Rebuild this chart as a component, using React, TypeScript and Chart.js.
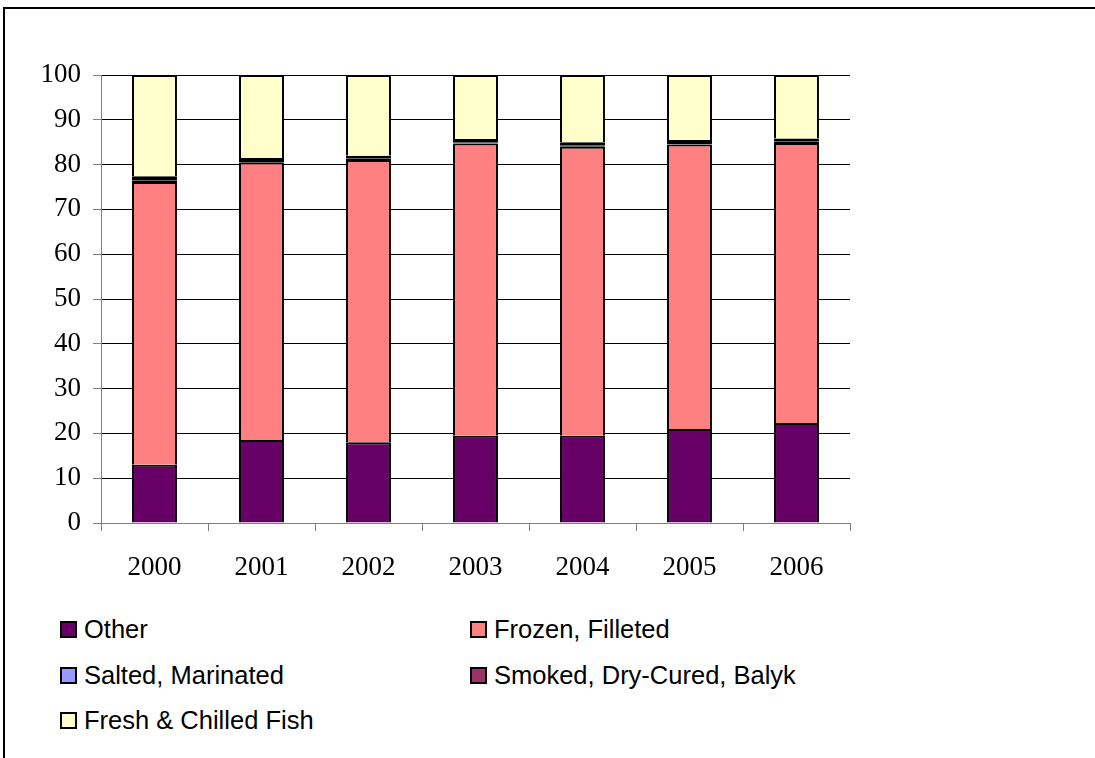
import React, { useEffect, useRef } from "react";
import { Chart, registerables } from "chart.js";

Chart.register(...registerables);

const years = ["2000", "2001", "2002", "2003", "2004", "2005", "2006"];
const other = [13, 18.5, 18, 19.5, 19.5, 21, 22.3];
const frozen = [63.1, 62, 63, 65.2, 64.5, 63.5, 62.5];
const salted = [0.4, 0.3, 0.3, 0.3, 0.3, 0.3, 0.3];
const smoked = [0.9, 0.7, 0.7, 0.7, 0.7, 0.7, 0.7];
const fresh = [22.6, 18.5, 18, 14.3, 15, 14.5, 14.2];
const yTicks = [0, 10, 20, 30, 40, 50, 60, 70, 80, 90, 100];

const seriesNames = ["Other", "Frozen, Filleted", "Salted, Marinated", "Smoked, Dry-Cured, Balyk", "Fresh & Chilled Fish"];
const seriesColors = ["#660066", "#FF8080", "#9999FF", "#993366", "#FFFFCC"];
const seriesBorders = [2, 2, 3, 3, 2];
const seriesThin = [false, false, true, true, false];
const seriesValues = [other, frozen, salted, smoked, fresh];

export default function App() {
  const ref = useRef<HTMLCanvasElement>(null);
  useEffect(() => {
    if (!ref.current) return;
    const chart = new Chart(ref.current, {
      type: "bar",
      data: {
        labels: years,
        datasets: seriesNames.map((name, i) => ({
          label: name,
          data: seriesValues[i],
          backgroundColor: seriesColors[i],
          borderColor: "#000000",
          borderWidth: seriesBorders[i],
          borderSkipped: seriesThin[i] ? false : "start",
          barPercentage: 0.42,
          categoryPercentage: 1,
        })),
      },
      options: {
        animation: false,
        responsive: false,
        maintainAspectRatio: false,
        layout: { padding: { left: 0, right: 245, top: 75, bottom: 7 } },
        plugins: { legend: { display: false }, tooltip: { enabled: false } },
        scales: {
          x: {
            stacked: true,
            offset: true,
            afterFit: (s: any) => { s.height = 70; },
            grid: {
              display: true,
              offset: true,
              drawOnChartArea: false,
              drawTicks: true,
              tickLength: 8,
              color: "#808080",
            },
            border: { color: "#808080", width: 1 },
            ticks: {
              color: "#000",
              font: { family: "'Liberation Serif', 'Times New Roman', serif", size: 27 },
              padding: 21,
            },
          },
          y: {
            stacked: true,
            min: 0,
            max: 100,
            afterFit: (s: any) => { s.width = 101; },
            afterBuildTicks: (s: any) => { s.ticks = yTicks.map((v) => ({ value: v })); },
            grid: {
              color: "#000000",
              lineWidth: 1,
              tickLength: 8,
              tickColor: "#808080",
            },
            border: { color: "#808080", width: 1 },
            ticks: {
              color: "#000",
              font: { family: "'Liberation Serif', 'Times New Roman', serif", size: 27 },
              padding: 12,
            },
          },
        },
      },
    });
    return () => chart.destroy();
  }, []);

  const legendPos = [
    { left: 60, top: 629 },
    { left: 470, top: 629 },
    { left: 60, top: 675 },
    { left: 470, top: 675 },
    { left: 60, top: 720 },
  ];

  return (
    <div style={{ position: "absolute", left: 0, top: 0, width: 1095, height: 758, overflow: "hidden", background: "#fff" }}>
      <div style={{ position: "absolute", left: 3, top: 7, width: 1200, height: 800, borderLeft: "2px solid #000", borderTop: "2px solid #000", boxSizing: "border-box" }} />
      <canvas ref={ref} width={1095} height={600} style={{ position: "absolute", left: 0, top: 0, width: 1095, height: 600 }} />
      {seriesNames.map((name, i) => (
        <div key={name} style={{ position: "absolute", left: legendPos[i].left, top: legendPos[i].top - 16, height: 32, display: "flex", alignItems: "center", fontFamily: "'Liberation Sans', Arial, sans-serif", fontSize: 25.5, color: "#000", whiteSpace: "nowrap" }}>
          <span style={{ display: "inline-block", width: 17, height: 17, background: seriesColors[i], border: "2px solid #000", boxSizing: "border-box", marginRight: 7 }} />
          {name}
        </div>
      ))}
    </div>
  );
}
